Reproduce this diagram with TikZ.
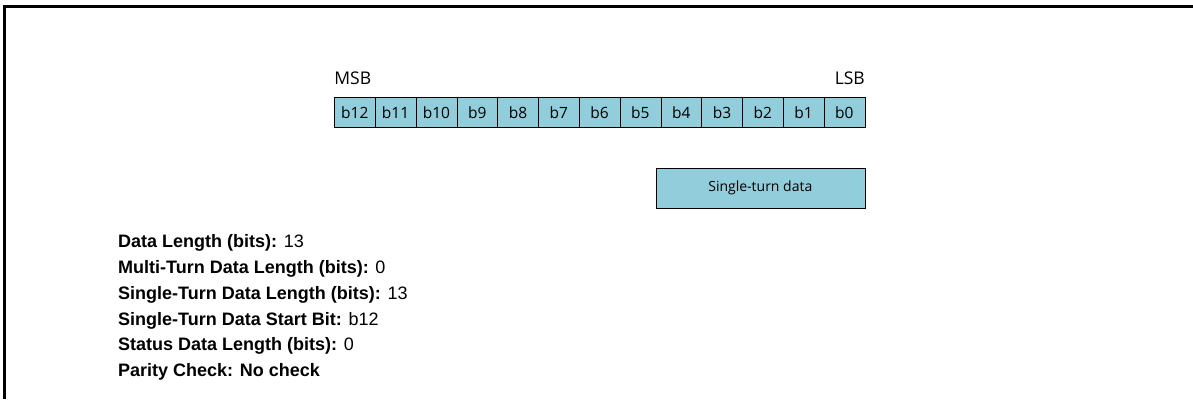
\documentclass[tikz,border=0pt]{standalone}
\usepackage{fontspec}
\setmainfont{Liberation Sans}
\newfontfamily\cellfont{Open Sans}
\usetikzlibrary{matrix,positioning}

\definecolor{cellblue}{HTML}{92CDDC}

\begin{document}
\begin{tikzpicture}[x=1pt,y=-1pt,
  cell/.style={draw,fill=cellblue,minimum width=40.8pt,minimum height=30pt,inner sep=0pt,font=\cellfont\fontsize{15.5}{17}\selectfont},
  bitlabel/.style={inner sep=0pt,font=\cellfont\fontsize{17.5}{19}\selectfont},
  infoline/.style={anchor=west,inner sep=0pt,font=\fontsize{18}{21}\selectfont},
  nextline/.style={below=25.8pt of #1.west,anchor=west}]
\useasboundingbox (0,0) rectangle (1193,399);
% frame
\draw[line width=3pt] (4,399) -- (4,6) -- (1193,6);
% bit row
\matrix (bits) [matrix of nodes, nodes={cell}, inner sep=0pt, column sep=-0.4pt, anchor=north west] at (334,97)
{
b12 & b11 & b10 & b9 & b8 & b7 & b6 & b5 & b4 & b3 & b2 & b1 & b0 \\
};
\node[bitlabel,anchor=south west] (msb) at ([yshift=12pt]bits-1-1.north west) {MSB};
\node[bitlabel,anchor=south east] (lsb) at ([yshift=12pt]bits-1-13.north east) {LSB};
% field
\node[cell,minimum width=209pt,minimum height=40pt,anchor=north east,font=\cellfont\fontsize{14}{16}\selectfont] (single) at ([yshift=-40pt]bits-1-13.south east) {Single-turn data};
% summary
\node[infoline] (len) at (118,243) {\textbf{Data Length (bits):} 13};
\node[infoline,nextline=len] (multi) {\textbf{Multi-Turn Data Length (bits):} 0};
\node[infoline,nextline=multi] (stlen) {\textbf{Single-Turn Data Length (bits):} 13};
\node[infoline,nextline=stlen] (ststart) {\textbf{Single-Turn Data Start Bit:} b12};
\node[infoline,nextline=ststart] (status) {\textbf{Status Data Length (bits):} 0};
\node[infoline,nextline=status] (parity) {\textbf{Parity Check: No check}};
\end{tikzpicture}
\end{document}
